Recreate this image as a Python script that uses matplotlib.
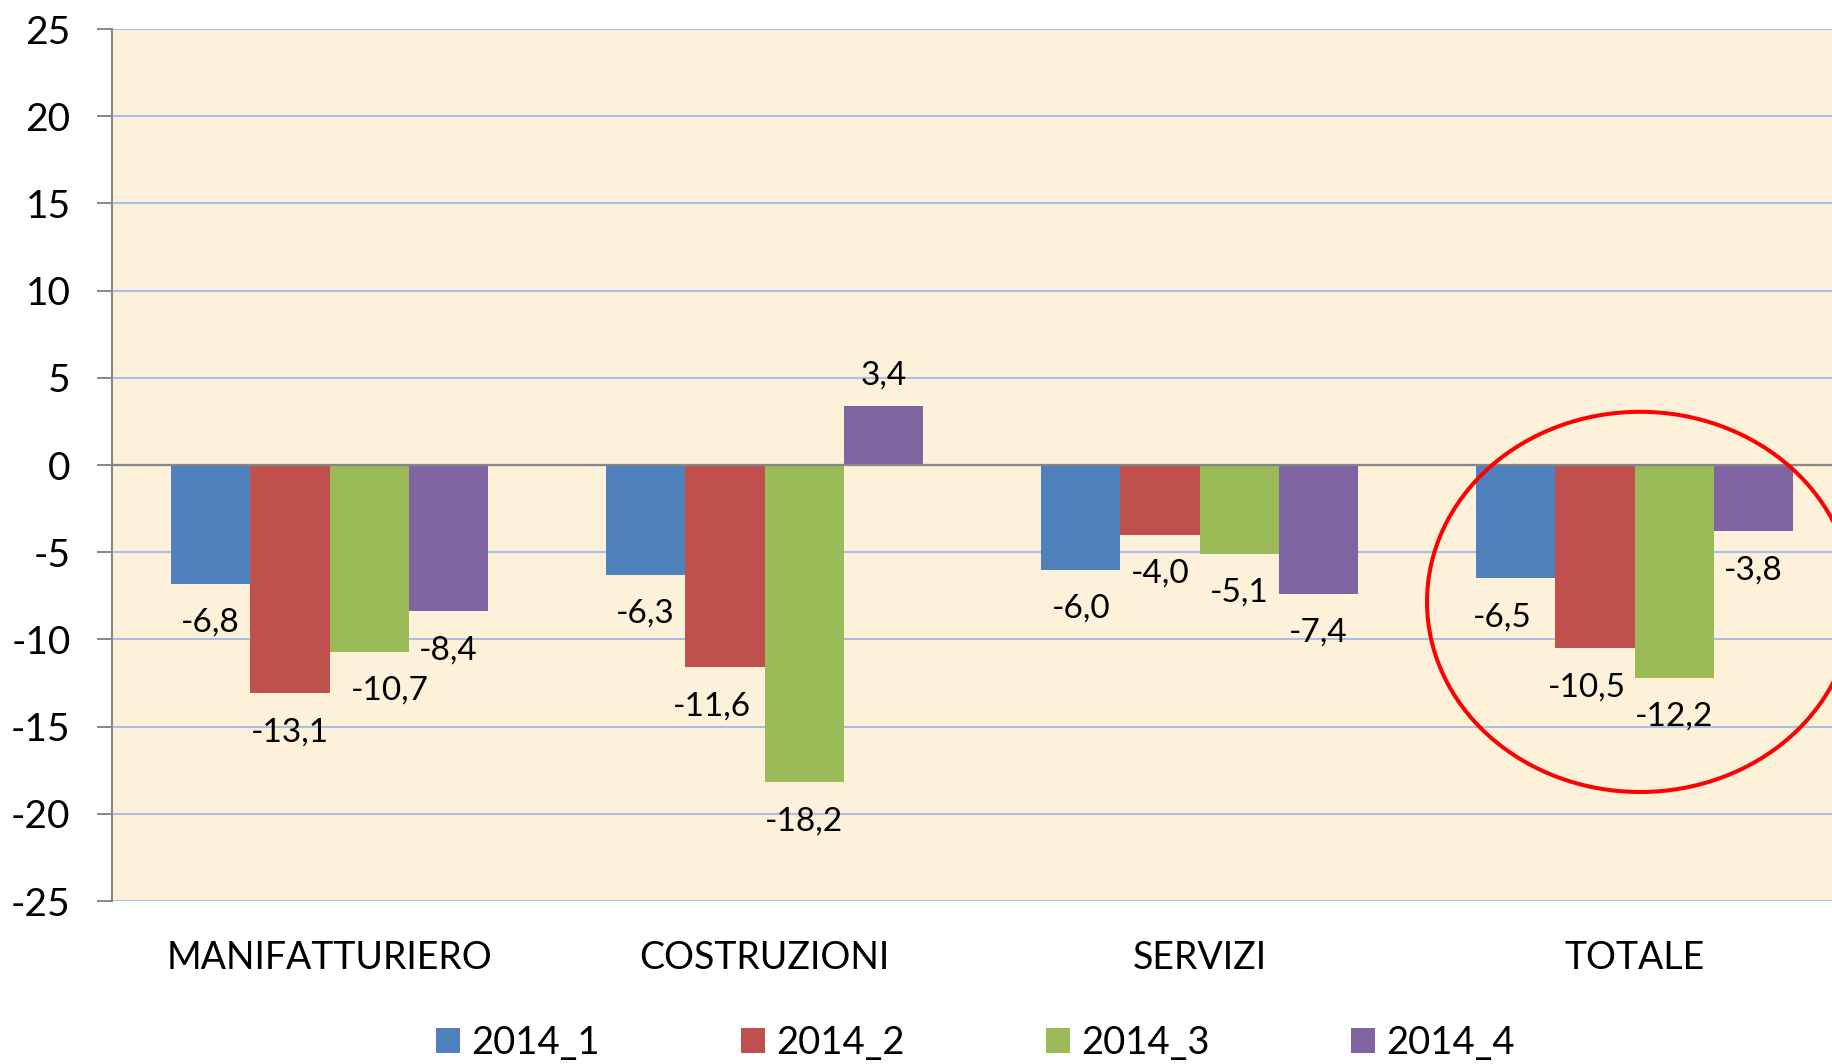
import matplotlib
matplotlib.use("Agg")
import matplotlib.pyplot as plt
from matplotlib.patches import Ellipse
from matplotlib.transforms import blended_transform_factory
import numpy as np

plt.rcParams['font.family'] = ['Lato', 'DejaVu Sans']
plt.rcParams['axes.unicode_minus'] = False

categories = ["MANIFATTURIERO", "COSTRUZIONI", "SERVIZI", "TOTALE"]
series_names = ["2014_1", "2014_2", "2014_3", "2014_4"]
s2014_1 = [-6.8, -6.3, -6.0, -6.5]
s2014_2 = [-13.1, -11.6, -4.0, -10.5]
s2014_3 = [-10.7, -18.2, -5.1, -12.2]
s2014_4 = [-8.4, 3.4, -7.4, -3.8]
series = [s2014_1, s2014_2, s2014_3, s2014_4]
colors = ["#4F81BD", "#C0504D", "#9BBB59", "#8064A2"]
yticks = [-25, -20, -15, -10, -5, 0, 5, 10, 15, 20, 25]

# small horizontal nudges (points) of data labels, as in the reference
label_nudge = [[0, 0, 0, -10], [0, -9, 0, -6], [15, 0, 0, 0], [0, 0, 0, 0]]

W, H = 1832, 1064
fig = plt.figure(figsize=(W / 100, H / 100), dpi=100)
ax = fig.add_axes([112 / W, 1 - 901 / H, 1 - 112 / W, (901 - 29) / H])
ax.set_facecolor("#FDF1DA")

x = np.arange(len(categories))
bw = 0.182
bars_all = []
for i, (vals, col) in enumerate(zip(series, colors)):
    bars = ax.bar(x + (i - 1.5) * bw, vals, bw, color=col, label=series_names[i],
                  edgecolor="none", zorder=3)
    bars_all.append(bars)
    for j, (b, v) in enumerate(zip(bars, vals)):
        txt = f"{v:.1f}".replace(".", ",")
        cx = b.get_x() + b.get_width() / 2
        dx = label_nudge[i][j]
        if v < 0:
            ax.annotate(txt, (cx, v), xytext=(dx, -34.5), textcoords="offset points",
                        ha="center", va="baseline", fontsize=24, color="black", zorder=5)
        else:
            ax.annotate(txt, (cx, v), xytext=(dx, 15), textcoords="offset points",
                        ha="center", va="baseline", fontsize=24, color="black", zorder=5)

ax.set_xlim(-0.5, -0.5 + (W - 112) / 435)
ax.set_ylim(-25, 25)
ax.set_yticks(yticks)
ax.set_yticklabels([str(t) for t in yticks], fontsize=28)
ax.tick_params(axis="y", length=10.8, width=1.4, color="#868686", pad=19)
ax.set_xticks([])
ax.grid(axis="y", color="#A9C0E6", linewidth=1.5, zorder=1)
for s in ["top", "right", "bottom"]:
    ax.spines[s].set_visible(False)
ax.spines["left"].set_color("#868686")
ax.spines["left"].set_linewidth(1.5)
ax.axhline(0, color="#868686", linewidth=1.6, zorder=4)

trans = blended_transform_factory(ax.transData, ax.transAxes)
for i, c in enumerate(categories):
    ax.text(i, -68 / 872, c, transform=trans, ha="center", va="baseline",
            fontsize=27, color="black")

ell = Ellipse((3.013, -7.85), 0.98, 21.8, fill=False, edgecolor="#FF0000",
              linewidth=2.9, zorder=6, clip_on=False)
ax.add_patch(ell)

lefts = [436, 741, 1046, 1351]
fs = 27.5
fpx = fs * 100 / 72
for i in range(4):
    leg = fig.legend([bars_all[i]], [series_names[i]], loc="center left",
                     bbox_to_anchor=(lefts[i] / W, 1 - 1043 / H), frameon=False,
                     fontsize=fs, borderpad=0, borderaxespad=0,
                     handlelength=24 / fpx, handleheight=24 / fpx,
                     handletextpad=11 / fpx)

fig.savefig("out.png", dpi=100)
